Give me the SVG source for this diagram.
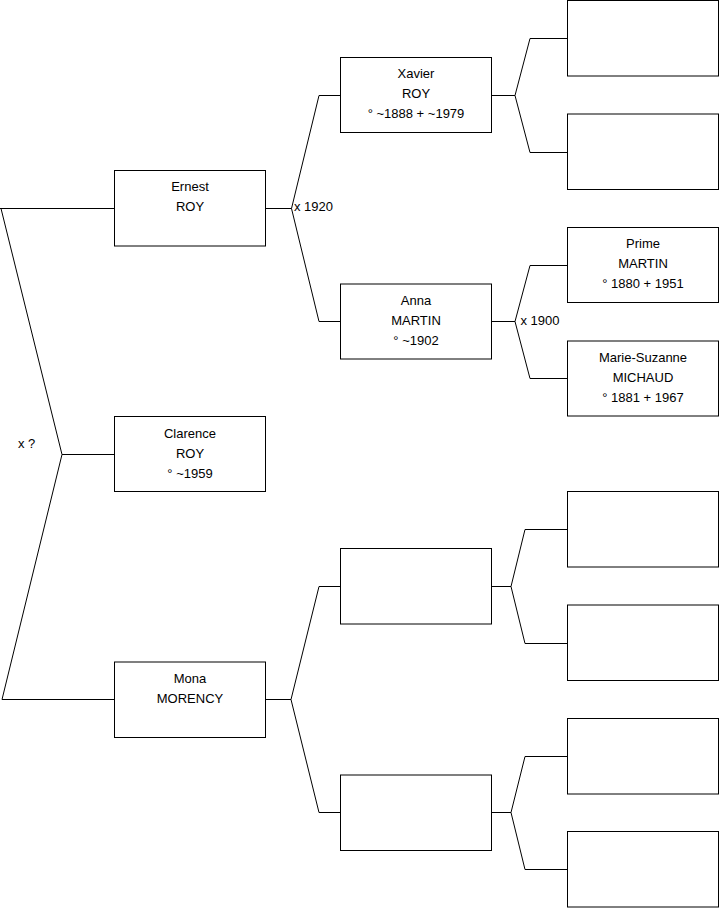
<svg xmlns="http://www.w3.org/2000/svg" width="719" height="908" viewBox="0 0 719 908">
<style>
.box{fill:#fff;stroke:#000;stroke-width:1}
.ln{fill:none;stroke:#000;stroke-width:1;stroke-linejoin:miter}
text{font-family:"Liberation Sans",Arial,sans-serif;font-size:13px;fill:#000}
.c{text-anchor:middle}
</style>
<rect width="719" height="908" fill="#fff"/>
<g id="connectors">
<path class="ln" d="M0,208.5 H114.5 M1,208.5 L62,454.5 L2,699.5 H114.5 M62,454.5 H114.5"/>
<path class="ln" d="M265.5,208.5 H291.5 M340.5,95.5 H319 L291.5,208.5 L319,321.5 H340.5"/>
<path class="ln" d="M491.5,95.5 H515 M567.5,38.5 H530 L515,95.5 L530,152.5 H567.5"/>
<path class="ln" d="M491.5,321.5 H515 M567.5,265.5 H530 L515,321.5 L530,378.5 H567.5"/>
<path class="ln" d="M265.5,699.5 H291 M340.5,586.5 H319 L291,699.5 L319,812.5 H340.5"/>
<path class="ln" d="M491.5,586.5 H511 M567.5,529.5 H525 L511,586.5 L525,643.5 H567.5"/>
<path class="ln" d="M491.5,812.5 H511 M567.5,756.5 H525 L511,812.5 L525,869.5 H567.5"/>
<text x="18" y="448">x ?</text>
<text x="294" y="211">x 1920</text>
<text x="520.5" y="324.5">x 1900</text>
</g>
<g id="ernest">
<rect class="box" x="114.5" y="170.5" width="151" height="75.5"/>
<text class="c" x="190" y="191">Ernest</text>
<text class="c" x="190" y="211">ROY</text>
</g>
<g id="clarence">
<rect class="box" x="114.5" y="416.5" width="151" height="75"/>
<text class="c" x="190" y="437.5">Clarence</text>
<text class="c" x="190" y="457.5">ROY</text>
<text class="c" x="190" y="477.5">° ~1959</text>
</g>
<g id="mona">
<rect class="box" x="114.5" y="662" width="151" height="75.5"/>
<text class="c" x="190" y="682.5">Mona</text>
<text class="c" x="190" y="702.5">MORENCY</text>
</g>
<g id="xavier">
<rect class="box" x="340.5" y="57.5" width="151" height="75"/>
<text class="c" x="416" y="78">Xavier</text>
<text class="c" x="416" y="98">ROY</text>
<text class="c" x="416" y="118">° ~1888 + ~1979</text>
</g>
<g id="anna">
<rect class="box" x="340.5" y="284" width="151" height="75"/>
<text class="c" x="416" y="304.5">Anna</text>
<text class="c" x="416" y="324.5">MARTIN</text>
<text class="c" x="416" y="344.5">° ~1902</text>
</g>
<g id="gen2-empty1">
<rect class="box" x="340.5" y="548.5" width="151" height="75.5"/>
</g>
<g id="gen2-empty2">
<rect class="box" x="340.5" y="775" width="151" height="75.5"/>
</g>
<g id="gen3-empty1">
<rect class="box" x="567.5" y="0.5" width="151" height="75.5"/>
</g>
<g id="gen3-empty2">
<rect class="box" x="567.5" y="114" width="151" height="75.5"/>
</g>
<g id="prime">
<rect class="box" x="567.5" y="227.5" width="151" height="75"/>
<text class="c" x="643" y="248">Prime</text>
<text class="c" x="643" y="268">MARTIN</text>
<text class="c" x="643" y="288">° 1880 + 1951</text>
</g>
<g id="marie-suzanne">
<rect class="box" x="567.5" y="341" width="151" height="75"/>
<text class="c" x="643" y="361.5">Marie-Suzanne</text>
<text class="c" x="643" y="381.5">MICHAUD</text>
<text class="c" x="643" y="401.5">° 1881 + 1967</text>
</g>
<g id="gen3-empty5">
<rect class="box" x="567.5" y="491.5" width="151" height="75.5"/>
</g>
<g id="gen3-empty6">
<rect class="box" x="567.5" y="605" width="151" height="75.5"/>
</g>
<g id="gen3-empty7">
<rect class="box" x="567.5" y="718.5" width="151" height="75.5"/>
</g>
<g id="gen3-empty8">
<rect class="box" x="567.5" y="831.5" width="151" height="75.5"/>
</g>
</svg>
